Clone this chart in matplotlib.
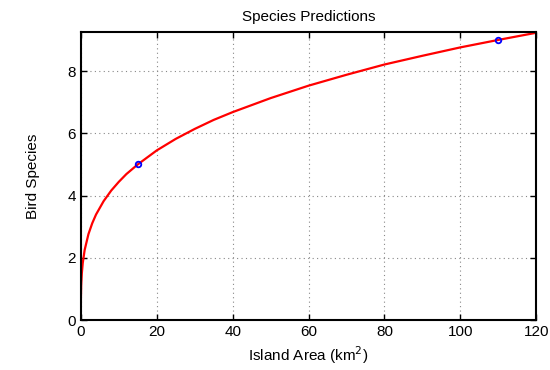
import matplotlib
matplotlib.use('Agg')
import matplotlib.pyplot as plt

plt.rcParams['font.family'] = ['Liberation Sans', 'DejaVu Sans']

# curve
area = [0, 0.02, 0.1, 0.25, 0.5, 1, 2, 3, 4, 6, 8, 10, 12, 15, 20, 25, 30, 35, 40,
        50, 60, 70, 80, 90, 100, 110, 120]
species = [0, 0.71, 1.14, 1.49, 1.83, 2.25, 2.76, 3.11, 3.39, 3.82, 4.16, 4.44, 4.69,
           5.0, 5.45, 5.82, 6.14, 6.43, 6.68, 7.13, 7.53, 7.88, 8.21, 8.49, 8.76, 9.0, 9.23]

# observed points
obs_area = [15, 110]
obs_species = [5, 9]

fig = plt.figure(figsize=(5.5, 3.7), dpi=100)
ax = fig.add_axes([0.147, 0.135, 0.828, 0.779])

ax.plot(area, species, color='red', lw=1.6)
ax.plot(obs_area, obs_species, 'o', mfc='none', mec='blue', mew=1.3, ms=4)

ax.set_xlim(0, 120)
ax.set_ylim(0, 9.26)
ax.set_xticks(range(0, 121, 20))
ax.set_yticks(range(0, 9, 2))
ax.grid(True, ls=(0, (1, 3)), color='#888888', lw=0.8)
ax.tick_params(direction='in', top=True, right=True, labelsize=11, length=4, width=1)
for s in ax.spines.values():
    s.set_linewidth(1.5)

ax.set_title('Species Predictions', fontsize=11, pad=8)
ax.set_xlabel('Island Area (km$^2$)', fontsize=11)
ax.set_ylabel('Bird Species', fontsize=11, labelpad=20)

fig.savefig('out.png', dpi=100)
